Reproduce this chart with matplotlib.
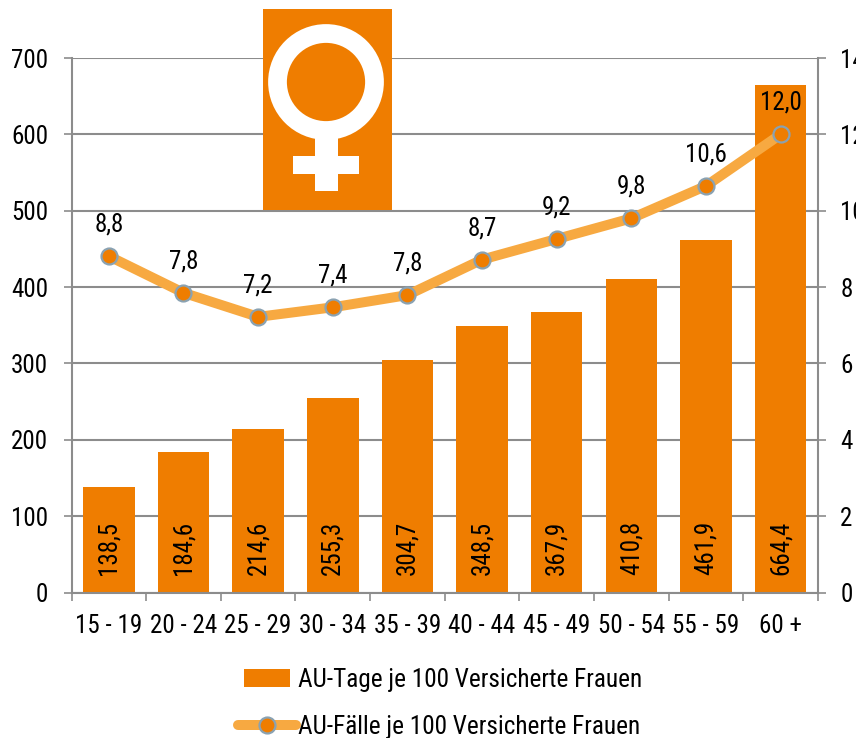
import matplotlib
matplotlib.use('Agg')
import matplotlib.pyplot as plt
from matplotlib.legend_handler import HandlerPatch
from matplotlib.lines import Line2D
from matplotlib.patches import Circle, Patch, Rectangle
from matplotlib.ticker import FixedLocator, NullFormatter, FixedFormatter

plt.rcParams['font.family'] = ['Roboto Condensed', 'Liberation Sans', 'DejaVu Sans']

age_groups = ['15 - 19', '20 - 24', '25 - 29', '30 - 34', '35 - 39',
              '40 - 44', '45 - 49', '50 - 54', '55 - 59', '60 +']
au_tage = [138.5, 184.6, 214.6, 255.3, 304.7, 348.5, 367.9, 410.8, 461.9, 664.4]
au_tage_labels = ['138,5', '184,6', '214,6', '255,3', '304,7', '348,5', '367,9', '410,8', '461,9', '664,4']
au_faelle = [8.81, 7.85, 7.22, 7.47, 7.79, 8.72, 9.26, 9.80, 10.65, 12.0]
au_faelle_labels = ['8,8', '7,8', '7,2', '7,4', '7,8', '8,7', '9,2', '9,8', '10,6', '12,0']

ORANGE = '#ef7d00'
LIGHT = '#f7a941'
GREY = '#8c8c8c'
EDGE = '#8aa2b2'
W, H = 856, 738
FS = 18


def bar_handle(legend, orig_handle, xdescent, ydescent, width, height, fontsize):
    return Rectangle((4 - xdescent, -ydescent), width - 8, height)


fig = plt.figure(figsize=(W / 100, H / 100), dpi=100)
ax = fig.add_axes([71.5 / W, 1 - 592.5 / H, (818 - 71.5) / W, (592.5 - 58) / H])
xs = list(range(len(age_groups)))

ax.bar(xs, au_tage, width=0.69, color=ORANGE, zorder=2)
ax.set_xlim(-0.5, len(xs) - 0.5)
ax.set_ylim(0, 700)
ax.set_yticks(range(0, 701, 100))
ax.yaxis.grid(True, color=GREY, lw=1.5, zorder=1)
ax.set_axisbelow(True)
ax.xaxis.set_major_locator(FixedLocator([i - 0.5 for i in range(len(xs) + 1)]))
ax.xaxis.set_major_formatter(NullFormatter())
ax.xaxis.set_minor_locator(FixedLocator(xs))
ax.xaxis.set_minor_formatter(FixedFormatter(age_groups))
ax.tick_params(axis='x', which='minor', length=0, pad=15.7, labelsize=FS)
ax.tick_params(axis='x', which='major', length=6, width=1.2, color=GREY)
ax.tick_params(axis='y', length=6, width=1.2, color=GREY, pad=10.7, labelsize=FS)
for name in ['left', 'right', 'bottom']:
    ax.spines[name].set_color(GREY)
    ax.spines[name].set_linewidth(1.5)
ax.spines['top'].set_visible(False)

for x, label in zip(xs, au_tage_labels):
    ax.annotate(label, (x, 0), xytext=(0, 12.5), textcoords='offset points',
                rotation=90, ha='center', va='bottom', fontsize=FS, color='black', zorder=3)

ax2 = ax.twinx()
ax2.set_ylim(0, 14)
ax2.set_yticks(range(0, 15, 2))
ax2.tick_params(axis='y', length=6, width=1.2, color=GREY, pad=10, labelsize=FS)
for spine in ax2.spines.values():
    spine.set_visible(False)
ax2.plot(xs, au_faelle, color=LIGHT, lw=7.2, solid_capstyle='round', marker='o', ms=11.5,
         mfc=ORANGE, mec=EDGE, mew=1.6, zorder=4)
for x, v, label in zip(xs, au_faelle, au_faelle_labels):
    ax2.annotate(label, (x, v), xytext=(0, 14), textcoords='offset points',
                 ha='center', va='bottom', fontsize=FS, color='black', zorder=5)

handles = [
    Patch(facecolor=ORANGE, edgecolor='none'),
    Line2D([0], [0], color=LIGHT, lw=7.2, solid_capstyle='round', marker='o', ms=11.5,
           mfc=ORANGE, mec=EDGE, mew=1.6),
]
fig.legend(handles, ['AU-Tage je 100 Versicherte Frauen', 'AU-Fälle je 100 Versicherte Frauen'],
           loc='center left', bbox_to_anchor=(238 / W, 1 - 703.5 / H), frameon=False, fontsize=18.2,
           handlelength=2.28, handleheight=0.7, handletextpad=0.1, labelspacing=0.92,
           borderpad=0, borderaxespad=0, handler_map={Patch: HandlerPatch(patch_func=bar_handle)})

# Venus symbol on top of the plot
logo = fig.add_axes([0, 0, 1, 1], zorder=10)
logo.set_xlim(0, W)
logo.set_ylim(H, 0)
logo.axis('off')
logo.patch.set_visible(False)
logo.add_patch(Rectangle((263, 9), 129, 201, color=ORANGE, lw=0))
logo.add_patch(Circle((326, 82), 48.5, fill=False, ec='white', lw=13.5))
logo.add_patch(Rectangle((315, 135), 23, 56, color='white', lw=0))
logo.add_patch(Rectangle((293, 156), 66, 18, color='white', lw=0))

fig.savefig('out.png', dpi=100)
